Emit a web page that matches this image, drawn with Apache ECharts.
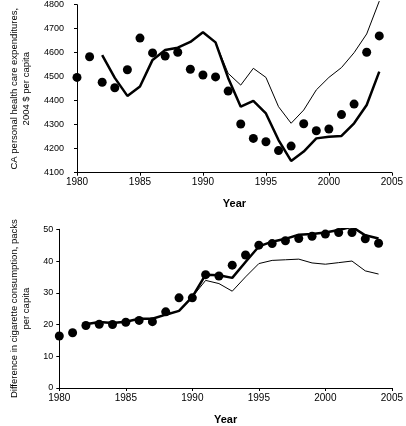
<!DOCTYPE html>
<html>
<head>
<meta charset="utf-8">
<script src="https://cdn.jsdelivr.net/npm/echarts@6/dist/echarts.min.js"></script>
<style>html,body{margin:0;padding:0;background:#fff}#c{width:406px;height:426px}</style>
</head>
<body>
<div id="c"></div>
<script>
const years = [1980,1981,1982,1983,1984,1985,1986,1987,1988,1989,1990,1991,1992,1993,1994,1995,1996,1997,1998,1999,2000,2001,2002,2003,2004];
const lineYears = years.slice(2);
const xTicks = [1980,1985,1990,1995,2000,2005];

// Top panel: CA personal health care expenditures
const healthDots = [4497,4583,4477,4454,4529,4661,4599,4586,4602,4531,4507,4499,4440,4303,4243,4229,4192,4211,4304,4275,4282,4342,4386,4602,4670];
const healthThick = [4590,4495,4420,4459,4570,4611,4621,4645,4685,4643,4495,4375,4399,4347,4236,4149,4188,4243,4250,4253,4306,4382,4521];
const healthThin = [4590,4495,4420,4459,4570,4611,4621,4645,4685,4643,4514,4465,4535,4497,4375,4306,4361,4445,4497,4538,4600,4678,4815];

// Bottom panel: difference in cigarette consumption
const cigDots = [16.4,17.4,19.7,20.1,20.0,20.7,21.3,20.9,24.0,28.4,28.4,35.7,35.3,38.7,41.9,45.0,45.5,46.4,47.1,47.8,48.5,49.0,49.0,47.0,45.6];
const cigThick = [20.1,20.8,20.5,20.9,21.8,21.8,23.1,24.3,28.7,35.7,35.5,34.7,39.7,44.6,46.1,47.0,48.3,48.5,49.0,49.8,50.8,48.1,47.1];
const cigThin = [20.1,20.8,20.5,20.9,21.8,21.8,23.1,24.3,28.7,33.9,32.9,30.5,35.0,39.2,40.2,40.4,40.6,39.4,39.0,39.5,40.0,36.9,35.9];

const pair = (xs, ys) => xs.map((x, i) => [x, ys[i]]);
const FONT = 'Liberation Sans, Arial, sans-serif';
const axisLine = {show:true, lineStyle:{color:'#000', width:1}};
const axisTick = {show:true, length:3, lineStyle:{color:'#000', width:1}};
const plain = v => String(v);

function xAxis(gi){
  return {
    type:'value', gridIndex:gi, min:1980, max:2005, interval:5,
    axisLine, axisTick, splitLine:{show:false},
    axisLabel:{color:'#000', fontFamily:FONT, fontSize:10, margin:5, formatter:plain},
    name:'Year', nameLocation:'middle', nameGap:26,
    nameTextStyle:{color:'#000', fontFamily:FONT, fontSize:11, fontWeight:'bold'}
  };
}

const chart = echarts.init(document.getElementById('c'), null, {renderer:'canvas'});
chart.setOption({
  animation:false,
  backgroundColor:'#fff',
  grid:[
    {left:57.5, right:12.5, top:4.7, height:168},
    {left:59.3, right:11.3, top:229.3, height:165.4}
  ],
  xAxis:[xAxis(0), xAxis(1)],
  yAxis:[
    {type:'value', gridIndex:0, min:4100, max:4800, interval:100,
     axisLine, axisTick, splitLine:{show:false},
     axisLabel:{color:'#000', fontFamily:FONT, fontSize:9, margin:13, formatter:plain},
     name:'CA personal health care expenditures,\n2004 $ per capita',
     nameLocation:'middle', nameRotate:90, nameGap:45,
     nameTextStyle:{color:'#000', fontFamily:FONT, fontSize:9.5, lineHeight:12, align:'center'}},
    {type:'value', gridIndex:1, min:0, max:50, interval:10,
     axisLine, axisTick, splitLine:{show:false},
     axisLabel:{color:'#000', fontFamily:FONT, fontSize:9, margin:6, formatter:plain},
     name:'Difference in cigarette consumption, packs\nper capita',
     nameLocation:'middle', nameRotate:90, nameGap:24,
     nameTextStyle:{color:'#000', fontFamily:FONT, fontSize:9.5, lineHeight:12, align:'center'}}
  ],
  series:[
    {type:'line', xAxisIndex:0, yAxisIndex:0, data:pair(lineYears, healthThin), symbol:'none', clip:false,
     lineStyle:{color:'#000', width:1}, z:2},
    {type:'line', xAxisIndex:0, yAxisIndex:0, data:pair(lineYears, healthThick), symbol:'none',
     lineStyle:{color:'#000', width:2.5}, z:3},
    {type:'scatter', xAxisIndex:0, yAxisIndex:0, data:pair(years, healthDots), symbol:'circle', symbolSize:9,
     itemStyle:{color:'#000', opacity:1}, z:4},
    {type:'line', xAxisIndex:1, yAxisIndex:1, data:pair(lineYears, cigThin), symbol:'none',
     lineStyle:{color:'#000', width:1}, z:2},
    {type:'line', xAxisIndex:1, yAxisIndex:1, data:pair(lineYears, cigThick), symbol:'none',
     lineStyle:{color:'#000', width:2.5}, z:3},
    {type:'scatter', xAxisIndex:1, yAxisIndex:1, data:pair(years, cigDots), symbol:'circle', symbolSize:9,
     itemStyle:{color:'#000', opacity:1}, z:4}
  ]
});
</script>
</body>
</html>
